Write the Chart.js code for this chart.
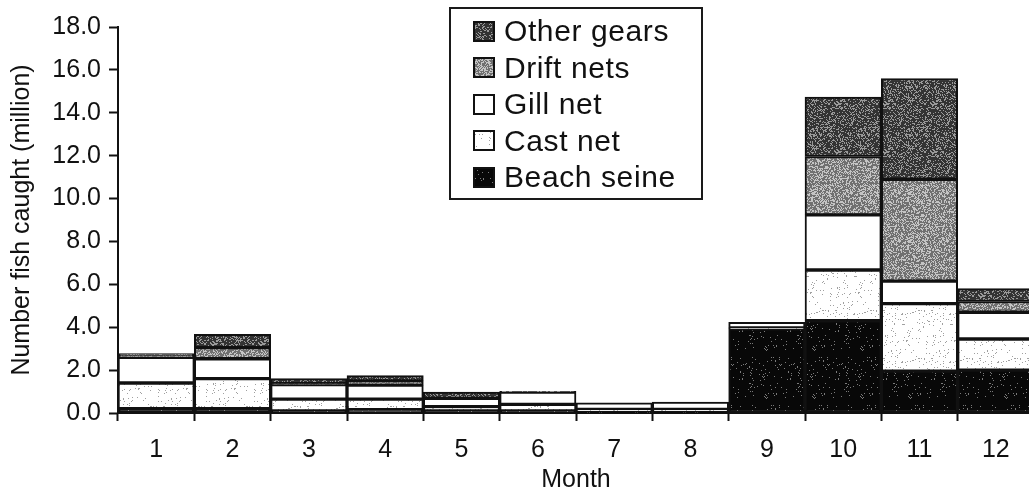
<!DOCTYPE html>
<html>
<head>
<meta charset="utf-8">
<script src="https://cdn.jsdelivr.net/npm/chart.js@4.4.0/dist/chart.umd.min.js"></script>
<style>
  html, body { margin: 0; padding: 0; background: #fff; overflow: hidden; }
  #wrap { position: relative; width: 1029px; height: 495px; overflow: hidden; }
  #fish { position: absolute; left: 0; top: 0; }
  #legend {
    position: absolute; left: 449px; top: 7px; width: 250px; height: 189px;
    border: 2px solid #1a1a1a; background: #fff;
  }
  .row {
    position: absolute; left: 22px; height: 36px; display: flex; align-items: center;
    font: 30px "Liberation Sans", Arial, sans-serif; letter-spacing: 0.6px;
    color: #111; white-space: nowrap;
  }
  .row canvas { border: 2px solid #111; margin-right: 9px; }
</style>
</head>
<body>
<div id="wrap">
  <canvas id="fish" width="1045" height="495"></canvas>
  <div id="legend"></div>
</div>
<script>
// monthly catch by gear, millions of fish
const months     = ['1', '2', '3', '4', '5', '6', '7', '8', '9', '10', '11', '12'];
const beachSeine = [0.2, 0.2, 0.1, 0.15, 0.1, 0.1, 0.05, 0.05, 3.92, 4.3, 1.95, 2.0];
const castNet    = [1.2, 1.4, 0.55, 0.5, 0.2, 0.3, 0.12, 0.12, 0.05, 2.37, 3.15, 1.45];
const gillNet    = [1.2, 0.93, 0.67, 0.65, 0.38, 0.58, 0.31, 0.34, 0.26, 2.57, 1.05, 1.25];
const driftNets  = [0.05, 0.52, 0.05, 0.2, 0, 0, 0, 0, 0, 2.72, 4.75, 0.5];
const otherGears = [0.12, 0.62, 0.23, 0.24, 0.3, 0.03, 0, 0, 0, 2.77, 4.7, 0.6];
const yTicks     = [0, 2, 4, 6, 8, 10, 12, 14, 16, 18];

const canvas = document.getElementById('fish');
const ctx = canvas.getContext('2d');

// stippled fill, like the print screens of the old figure
function speckle(base, dot, density, seed) {
  const c = document.createElement('canvas');
  c.width = c.height = 48;
  const g = c.getContext('2d');
  g.fillStyle = base;
  g.fillRect(0, 0, 48, 48);
  if (dot) {
    g.fillStyle = dot;
    for (let y = 0; y < 48; y++) {
      for (let x = 0; x < 48; x++) {
        let h = (Math.imul(x, 374761393) + Math.imul(y, 668265263) + Math.imul(seed, 982451653)) | 0;
        h = Math.imul(h ^ (h >>> 13), 1274126177);
        h = (h ^ (h >>> 16)) >>> 0;
        if (h / 4294967296 < density) g.fillRect(x, y, 1, 1);
      }
    }
  }
  return ctx.createPattern(c, 'repeat');
}

const fills = {
  beach: speckle('#080808', '#7a7a7a', 0.04, 1),
  cast:  speckle('#ffffff', '#a0a0a0', 0.05, 2),
  gill:  '#ffffff',
  drift: speckle('#707070', '#c4c4c4', 0.40, 3),
  other: speckle('#333333', '#999999', 0.30, 4)
};

const series = [
  { label: 'Beach seine', data: beachSeine, backgroundColor: fills.beach },
  { label: 'Cast net',    data: castNet,    backgroundColor: fills.cast },
  { label: 'Gill net',    data: gillNet,    backgroundColor: fills.gill },
  { label: 'Drift nets',  data: driftNets,  backgroundColor: fills.drift },
  { label: 'Other gears', data: otherGears, backgroundColor: fills.other }
];

const axisFont = { family: '"Liberation Sans", Arial, sans-serif', size: 25 };

new Chart(ctx, {
  type: 'bar',
  data: { labels: months, datasets: series },
  options: {
    responsive: false,
    animation: false,
    devicePixelRatio: 1,
    layout: { padding: { top: 27, right: 11, left: 0, bottom: 0 } },
    plugins: { legend: { display: false }, tooltip: { enabled: false } },
    datasets: {
      bar: { barPercentage: 1, categoryPercentage: 1, borderColor: '#111', borderWidth: 2, borderSkipped: false }
    },
    scales: {
      x: {
        stacked: true,
        grid: { drawOnChartArea: false, offset: true, color: '#111', tickLength: 8, tickWidth: 2 },
        border: { color: '#111', width: 2 },
        ticks: { color: '#111', font: axisFont, padding: 14 },
        title: { display: true, text: 'Month', color: '#111', font: axisFont, padding: { top: 3, bottom: 0 } },
        afterFit: s => { s.height = 82; }
      },
      y: {
        stacked: true,
        min: yTicks[0],
        max: yTicks[yTicks.length - 1],
        afterBuildTicks: s => { s.ticks = yTicks.map(v => ({ value: v })); },
        grid: { drawOnChartArea: false, color: '#111', tickLength: 9, tickWidth: 2 },
        border: { color: '#111', width: 2 },
        ticks: { color: '#111', font: axisFont, padding: 8, callback: v => Number(v).toFixed(1) },
        title: { display: true, text: 'Number fish caught (million)', color: '#111', font: axisFont, padding: { top: 7, bottom: 0 } },
        afterFit: s => { s.width = 118; }
      }
    }
  }
});

// legend box, top entry first
const legend = document.getElementById('legend');
series.slice().reverse().forEach((d, i) => {
  const row = document.createElement('div');
  row.className = 'row';
  row.style.top = (4 + i * 36.5) + 'px';
  const sw = document.createElement('canvas');
  sw.width = 18; sw.height = 17;
  const g = sw.getContext('2d');
  g.fillStyle = d.backgroundColor;
  g.fillRect(0, 0, 18, 17);
  row.appendChild(sw);
  row.appendChild(document.createTextNode(d.label));
  legend.appendChild(row);
});
</script>
</body>
</html>
